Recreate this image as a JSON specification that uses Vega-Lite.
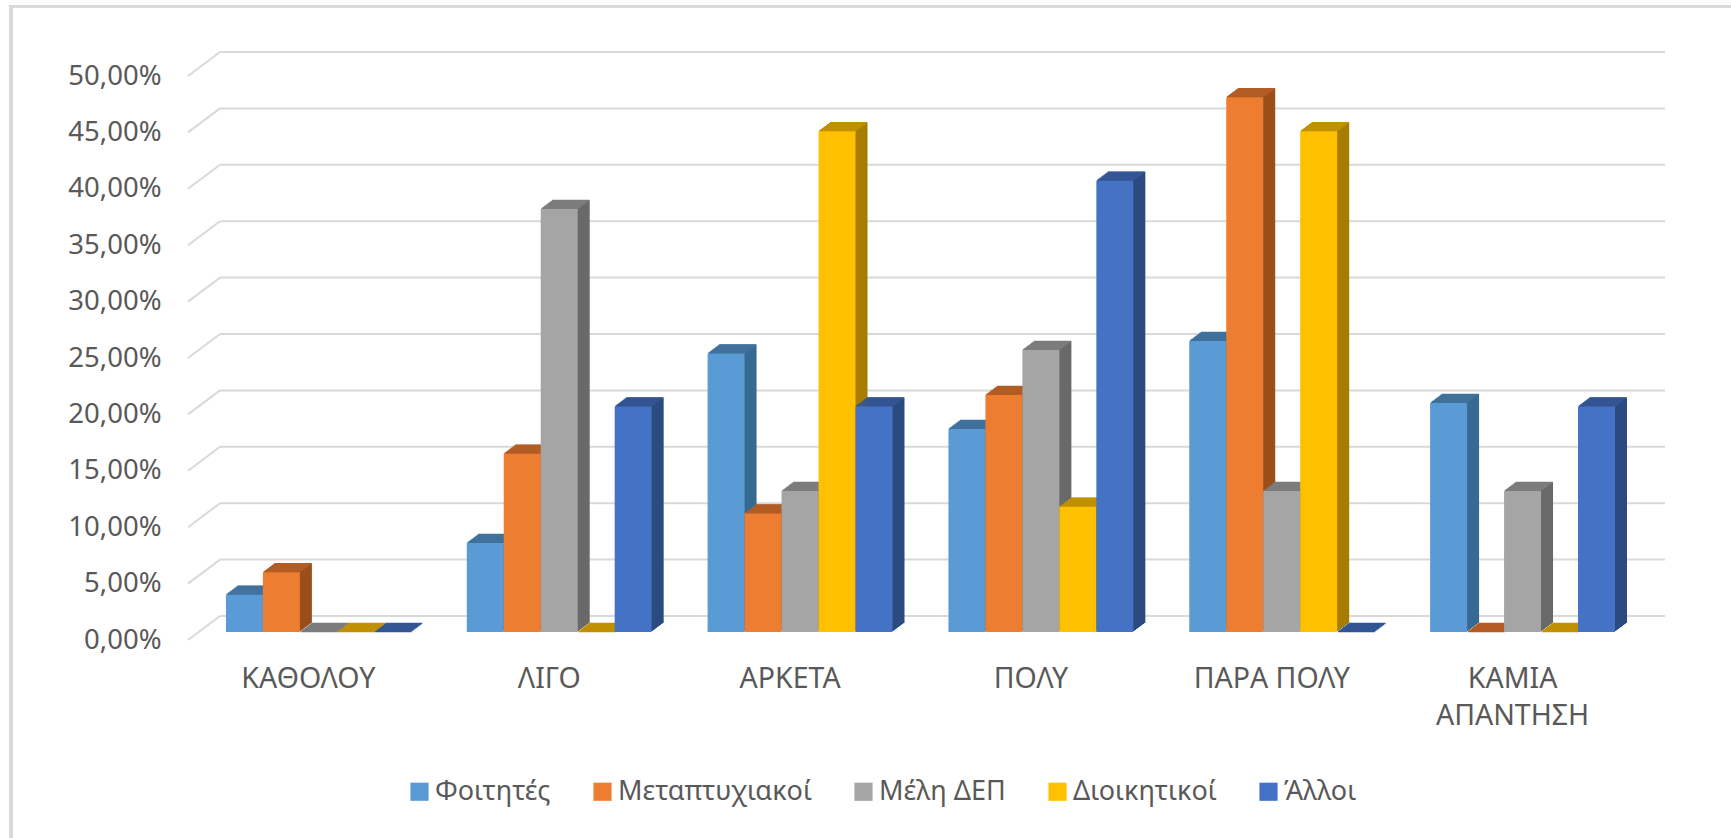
{"$schema":"https://vega.github.io/schema/vega-lite/v6.json","width":1445,"height":564,"autosize":{"type":"none"},"padding":{"left":188,"top":76,"right":98,"bottom":198},"background":"#ffffff","config":{"view":{"stroke":null},"font":"Noto Sans"},"datasets":{"main":[{"c":"ΚΑΘΟΛΟΥ","s":"Φοιτητές","v":3.3},{"c":"ΚΑΘΟΛΟΥ","s":"Μεταπτυχιακοί","v":5.3},{"c":"ΚΑΘΟΛΟΥ","s":"Μέλη ΔΕΠ","v":0},{"c":"ΚΑΘΟΛΟΥ","s":"Διοικητικοί","v":0},{"c":"ΚΑΘΟΛΟΥ","s":"Άλλοι","v":0},{"c":"ΛΙΓΟ","s":"Φοιτητές","v":7.9},{"c":"ΛΙΓΟ","s":"Μεταπτυχιακοί","v":15.8},{"c":"ΛΙΓΟ","s":"Μέλη ΔΕΠ","v":37.5},{"c":"ΛΙΓΟ","s":"Διοικητικοί","v":0},{"c":"ΛΙΓΟ","s":"Άλλοι","v":20},{"c":"ΑΡΚΕΤΑ","s":"Φοιτητές","v":24.7},{"c":"ΑΡΚΕΤΑ","s":"Μεταπτυχιακοί","v":10.5},{"c":"ΑΡΚΕΤΑ","s":"Μέλη ΔΕΠ","v":12.5},{"c":"ΑΡΚΕΤΑ","s":"Διοικητικοί","v":44.4},{"c":"ΑΡΚΕΤΑ","s":"Άλλοι","v":20},{"c":"ΠΟΛΥ","s":"Φοιτητές","v":18},{"c":"ΠΟΛΥ","s":"Μεταπτυχιακοί","v":21},{"c":"ΠΟΛΥ","s":"Μέλη ΔΕΠ","v":25},{"c":"ΠΟΛΥ","s":"Διοικητικοί","v":11.1},{"c":"ΠΟΛΥ","s":"Άλλοι","v":40},{"c":"ΠΑΡΑ ΠΟΛΥ","s":"Φοιτητές","v":25.8},{"c":"ΠΑΡΑ ΠΟΛΥ","s":"Μεταπτυχιακοί","v":47.4},{"c":"ΠΑΡΑ ΠΟΛΥ","s":"Μέλη ΔΕΠ","v":12.5},{"c":"ΠΑΡΑ ΠΟΛΥ","s":"Διοικητικοί","v":44.4},{"c":"ΠΑΡΑ ΠΟΛΥ","s":"Άλλοι","v":0},{"c":"ΚΑΜΙΑ ΑΠΑΝΤΗΣΗ","s":"Φοιτητές","v":20.3},{"c":"ΚΑΜΙΑ ΑΠΑΝΤΗΣΗ","s":"Μεταπτυχιακοί","v":0},{"c":"ΚΑΜΙΑ ΑΠΑΝΤΗΣΗ","s":"Μέλη ΔΕΠ","v":12.5},{"c":"ΚΑΜΙΑ ΑΠΑΝΤΗΣΗ","s":"Διοικητικοί","v":0},{"c":"ΚΑΜΙΑ ΑΠΑΝΤΗΣΗ","s":"Άλλοι","v":20}],"grid":[{"g":0},{"g":5},{"g":10},{"g":15},{"g":20},{"g":25},{"g":30},{"g":35},{"g":40},{"g":45},{"g":50}]},"resolve":{"scale":{"color":"independent","xOffset":"independent"}},"layer":[{"data":{"name":"grid"},"mark":{"type":"rule","color":"#d9d9d9","strokeWidth":3,"yOffset":-69.5,"y2Offset":-69.5,"xOffset":-297.4,"x2Offset":218.4},"encoding":{"x":{"datum":"ΚΑΘΟΛΟΥ","type":"nominal","scale":{"domain":["ΚΑΘΟΛΟΥ","ΛΙΓΟ","ΑΡΚΕΤΑ","ΠΟΛΥ","ΠΑΡΑ ΠΟΛΥ","ΚΑΜΙΑ ΑΠΑΝΤΗΣΗ"],"paddingInner":0.232,"paddingOuter":0.116}},"x2":{"datum":"ΚΑΜΙΑ ΑΠΑΝΤΗΣΗ"},"y":{"datum":50,"type":"quantitative","scale":{"domain":[0,50]}}}},{"data":{"name":"grid"},"mark":{"type":"rule","color":"#d9d9d9","strokeWidth":3,"xOffset":-297.4,"x2Offset":-297.4,"yOffset":-71,"y2Offset":198},"encoding":{"x":{"datum":"ΚΑΘΟΛΟΥ","type":"nominal"},"y":{"datum":50,"type":"quantitative"},"y2":{"datum":0}}},{"data":{"name":"grid"},"mark":{"type":"rule","color":"#d9d9d9","strokeWidth":2,"xOffset":-88.4,"x2Offset":152.4,"yOffset":-24,"y2Offset":-24},"encoding":{"x":{"datum":"ΚΑΘΟΛΟΥ","type":"nominal"},"x2":{"datum":"ΚΑΜΙΑ ΑΠΑΝΤΗΣΗ"},"y":{"field":"g","type":"quantitative"}}},{"data":{"name":"grid"},"mark":{"type":"point","shape":"M-1,0.75L1,-0.75","size":1024,"filled":false,"color":"#d9d9d9","strokeWidth":2,"opacity":1,"xOffset":-104.4,"yOffset":-12},"encoding":{"x":{"datum":"ΚΑΘΟΛΟΥ","type":"nominal"},"y":{"field":"g","type":"quantitative"}}},{"data":{"name":"main"},"resolve":{"scale":{"xOffset":"independent"}},"encoding":{"x":{"field":"c","type":"nominal"},"y":{"field":"v","type":"quantitative"},"y2":{"datum":0},"color":{"field":"s","type":"nominal","legend":null,"scale":{"domain":["Φοιτητές","Μεταπτυχιακοί","Μέλη ΔΕΠ","Διοικητικοί","Άλλοι"],"range":["#376A92","#9A4F1B","#696969","#A67D00","#2A4A80"]}}},"layer":[{"mark":{"type":"bar","yOffset":-9,"y2Offset":-9},"encoding":{"xOffset":{"field":"s","type":"nominal","scale":{"domain":["Φοιτητές","Μεταπτυχιακοί","Μέλη ΔΕΠ","Διοικητικοί","Άλλοι"],"range":[11.3,196.2]}}}},{"mark":{"type":"bar","yOffset":-10,"y2Offset":-10},"encoding":{"xOffset":{"field":"s","type":"nominal","scale":{"domain":["Φοιτητές","Μεταπτυχιακοί","Μέλη ΔΕΠ","Διοικητικοί","Άλλοι"],"range":[12.7,197.6]}}}},{"mark":{"type":"bar","yOffset":-11,"y2Offset":-11},"encoding":{"xOffset":{"field":"s","type":"nominal","scale":{"domain":["Φοιτητές","Μεταπτυχιακοί","Μέλη ΔΕΠ","Διοικητικοί","Άλλοι"],"range":[14,198.9]}}}},{"mark":{"type":"bar","yOffset":-12,"y2Offset":-12},"encoding":{"xOffset":{"field":"s","type":"nominal","scale":{"domain":["Φοιτητές","Μεταπτυχιακοί","Μέλη ΔΕΠ","Διοικητικοί","Άλλοι"],"range":[15.3,200.2]}}}},{"mark":{"type":"bar","yOffset":-13,"y2Offset":-13},"encoding":{"xOffset":{"field":"s","type":"nominal","scale":{"domain":["Φοιτητές","Μεταπτυχιακοί","Μέλη ΔΕΠ","Διοικητικοί","Άλλοι"],"range":[16.7,201.6]}}}},{"mark":{"type":"bar","yOffset":-14,"y2Offset":-14},"encoding":{"xOffset":{"field":"s","type":"nominal","scale":{"domain":["Φοιτητές","Μεταπτυχιακοί","Μέλη ΔΕΠ","Διοικητικοί","Άλλοι"],"range":[18,202.9]}}}},{"mark":{"type":"bar","yOffset":-15,"y2Offset":-15},"encoding":{"xOffset":{"field":"s","type":"nominal","scale":{"domain":["Φοιτητές","Μεταπτυχιακοί","Μέλη ΔΕΠ","Διοικητικοί","Άλλοι"],"range":[19.3,204.2]}}}},{"mark":{"type":"bar","yOffset":-16,"y2Offset":-16},"encoding":{"xOffset":{"field":"s","type":"nominal","scale":{"domain":["Φοιτητές","Μεταπτυχιακοί","Μέλη ΔΕΠ","Διοικητικοί","Άλλοι"],"range":[20.7,205.6]}}}},{"mark":{"type":"bar","yOffset":-17,"y2Offset":-17},"encoding":{"xOffset":{"field":"s","type":"nominal","scale":{"domain":["Φοιτητές","Μεταπτυχιακοί","Μέλη ΔΕΠ","Διοικητικοί","Άλλοι"],"range":[22,206.9]}}}}]},{"data":{"name":"main"},"resolve":{"scale":{"xOffset":"independent"}},"encoding":{"x":{"field":"c","type":"nominal"},"y":{"field":"v","type":"quantitative"},"y2":{"field":"v"},"color":{"field":"s","type":"nominal","legend":null,"scale":{"domain":["Φοιτητές","Μεταπτυχιακοί","Μέλη ΔΕΠ","Διοικητικοί","Άλλοι"],"range":["#41719C","#B25D25","#7C7C7C","#BF9000","#335694"]}},"stroke":{"field":"s","type":"nominal","legend":null,"scale":{"domain":["Φοιτητές","Μεταπτυχιακοί","Μέλη ΔΕΠ","Διοικητικοί","Άλλοι"],"range":["#41719C","#B25D25","#7C7C7C","#BF9000","#335694"]}}},"layer":[{"mark":{"type":"bar","strokeWidth":1.5,"yOffset":-8.5,"y2Offset":-8.5},"encoding":{"xOffset":{"field":"s","type":"nominal","scale":{"domain":["Φοιτητές","Μεταπτυχιακοί","Μέλη ΔΕΠ","Διοικητικοί","Άλλοι"],"range":[10.7,195.6]}}}},{"mark":{"type":"bar","strokeWidth":1.5,"yOffset":-9.5,"y2Offset":-9.5},"encoding":{"xOffset":{"field":"s","type":"nominal","scale":{"domain":["Φοιτητές","Μεταπτυχιακοί","Μέλη ΔΕΠ","Διοικητικοί","Άλλοι"],"range":[12,196.9]}}}},{"mark":{"type":"bar","strokeWidth":1.5,"yOffset":-10.5,"y2Offset":-10.5},"encoding":{"xOffset":{"field":"s","type":"nominal","scale":{"domain":["Φοιτητές","Μεταπτυχιακοί","Μέλη ΔΕΠ","Διοικητικοί","Άλλοι"],"range":[13.4,198.3]}}}},{"mark":{"type":"bar","strokeWidth":1.5,"yOffset":-11.5,"y2Offset":-11.5},"encoding":{"xOffset":{"field":"s","type":"nominal","scale":{"domain":["Φοιτητές","Μεταπτυχιακοί","Μέλη ΔΕΠ","Διοικητικοί","Άλλοι"],"range":[14.7,199.6]}}}},{"mark":{"type":"bar","strokeWidth":1.5,"yOffset":-12.5,"y2Offset":-12.5},"encoding":{"xOffset":{"field":"s","type":"nominal","scale":{"domain":["Φοιτητές","Μεταπτυχιακοί","Μέλη ΔΕΠ","Διοικητικοί","Άλλοι"],"range":[16,200.9]}}}},{"mark":{"type":"bar","strokeWidth":1.5,"yOffset":-13.5,"y2Offset":-13.5},"encoding":{"xOffset":{"field":"s","type":"nominal","scale":{"domain":["Φοιτητές","Μεταπτυχιακοί","Μέλη ΔΕΠ","Διοικητικοί","Άλλοι"],"range":[17.4,202.3]}}}},{"mark":{"type":"bar","strokeWidth":1.5,"yOffset":-14.5,"y2Offset":-14.5},"encoding":{"xOffset":{"field":"s","type":"nominal","scale":{"domain":["Φοιτητές","Μεταπτυχιακοί","Μέλη ΔΕΠ","Διοικητικοί","Άλλοι"],"range":[18.7,203.6]}}}},{"mark":{"type":"bar","strokeWidth":1.5,"yOffset":-15.5,"y2Offset":-15.5},"encoding":{"xOffset":{"field":"s","type":"nominal","scale":{"domain":["Φοιτητές","Μεταπτυχιακοί","Μέλη ΔΕΠ","Διοικητικοί","Άλλοι"],"range":[20,204.9]}}}},{"mark":{"type":"bar","strokeWidth":1.5,"yOffset":-16.5,"y2Offset":-16.5},"encoding":{"xOffset":{"field":"s","type":"nominal","scale":{"domain":["Φοιτητές","Μεταπτυχιακοί","Μέλη ΔΕΠ","Διοικητικοί","Άλλοι"],"range":[21.4,206.3]}}}}]},{"data":{"name":"main"},"mark":{"type":"bar","yOffset":-8,"y2Offset":-8},"encoding":{"x":{"field":"c","type":"nominal","title":null,"axis":{"domain":false,"ticks":false,"labelAngle":0,"labelAlign":"center","labelBaseline":"top","labelFontSize":28.5,"labelColor":"#595959","labelPadding":24,"labelLineHeight":37,"labelLimit":400,"labelExpr":"datum.label == 'ΚΑΜΙΑ ΑΠΑΝΤΗΣΗ' ? ['ΚΑΜΙΑ','ΑΠΑΝΤΗΣΗ'] : datum.label"}},"xOffset":{"field":"s","type":"nominal","scale":{"domain":["Φοιτητές","Μεταπτυχιακοί","Μέλη ΔΕΠ","Διοικητικοί","Άλλοι"],"range":[10,194.9]}},"y":{"field":"v","type":"quantitative","title":null,"axis":{"domain":false,"ticks":false,"grid":false,"values":[0,5,10,15,20,25,30,35,40,45,50],"labelFontSize":27.5,"labelColor":"#595959","labelPadding":27,"labelExpr":"replace(format(datum.value,'.2f'),'.',',')+'%'"}},"y2":{"datum":0},"color":{"field":"s","type":"nominal","scale":{"domain":["Φοιτητές","Μεταπτυχιακοί","Μέλη ΔΕΠ","Διοικητικοί","Άλλοι"],"range":["#5B9BD5","#ED7D31","#A5A5A5","#FFC000","#4472C4"]},"legend":{"orient":"none","legendX":218,"legendY":702,"direction":"horizontal","columns":5,"title":null,"symbolType":"square","symbolSize":330,"symbolStrokeWidth":0,"labelFontSize":27,"labelColor":"#595959","labelLimit":400,"columnPadding":38,"labelOffset":2}}}}]}
